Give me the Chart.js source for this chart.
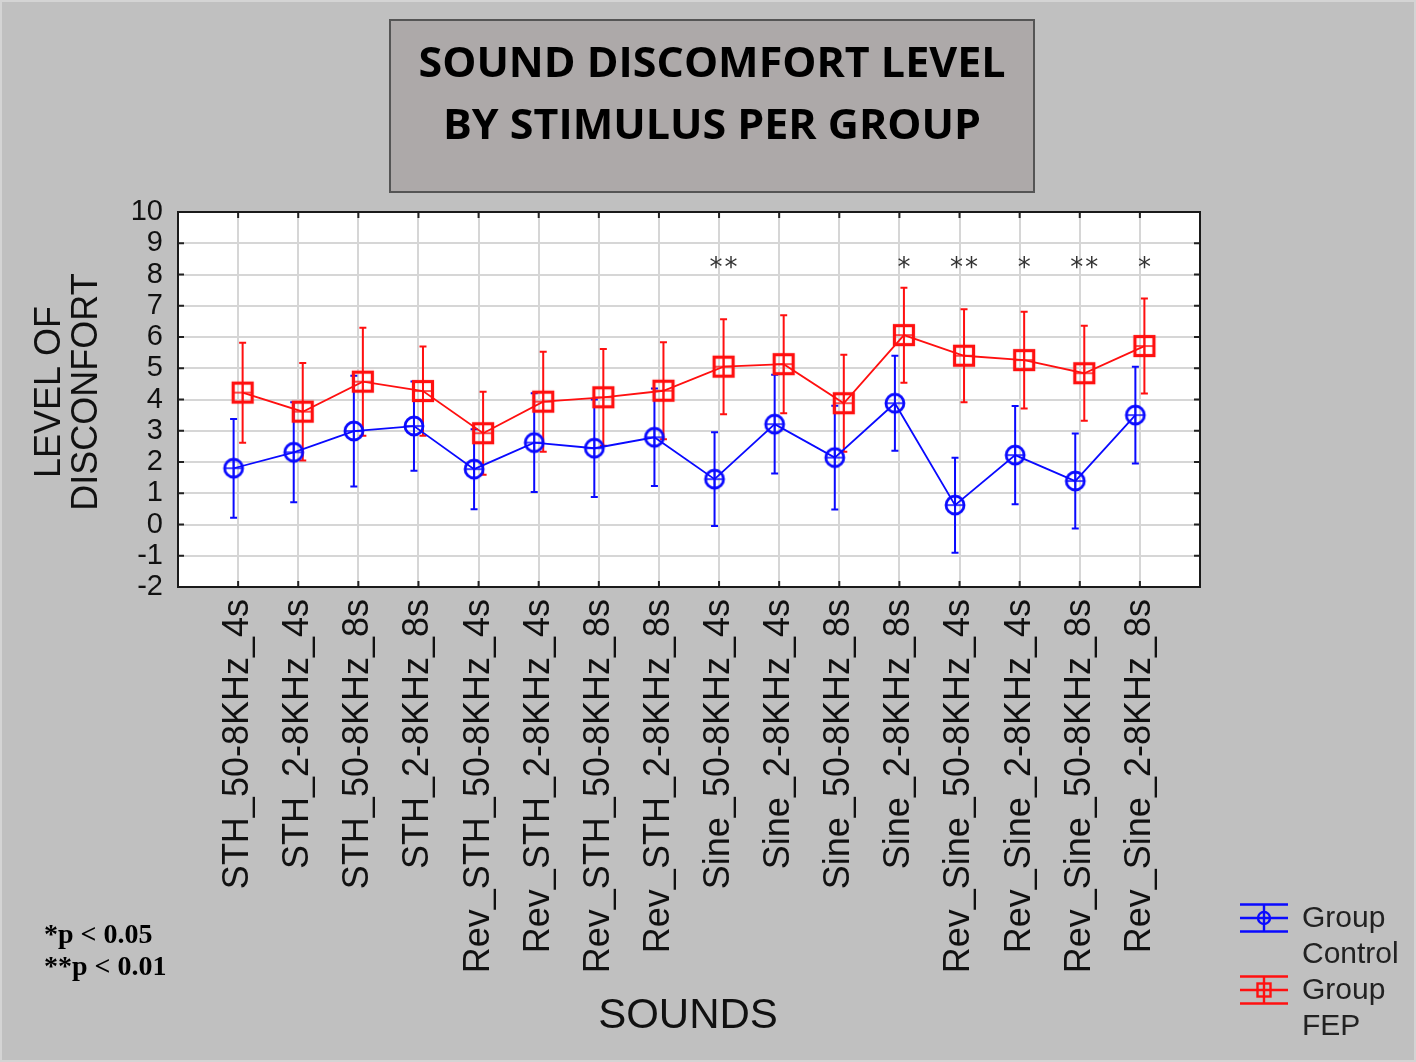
<!DOCTYPE html>
<html>
<head>
<meta charset="utf-8">
<script src="https://cdn.jsdelivr.net/npm/chart.js@4.4.1/dist/chart.umd.min.js"></script>
<style>
  html, body { margin: 0; padding: 0; background: #c0c0c0; }
  #wrap { width: 1416px; height: 1062px; position: relative; }
  canvas { display: block; }
</style>
</head>
<body>
<div id="wrap"><canvas id="c" width="1416" height="1062"></canvas></div>
<script>
// ---------------- DATA ----------------
const categories = [
  'STH_50-8KHz_4s', 'STH_2-8KHz_4s', 'STH_50-8KHz_8s', 'STH_2-8KHz_8s',
  'Rev_STH_50-8KHz_4s', 'Rev_STH_2-8KHz_4s', 'Rev_STH_50-8KHz_8s', 'Rev_STH_2-8KHz_8s',
  'Sine_50-8KHz_4s', 'Sine_2-8KHz_4s', 'Sine_50-8KHz_8s', 'Sine_2-8KHz_8s',
  'Rev_Sine_50-8KHz_4s', 'Rev_Sine_2-8KHz_4s', 'Rev_Sine_50-8KHz_8s', 'Rev_Sine_2-8KHz_8s'
];
const controlMeans = [1.80, 2.31, 2.99, 3.15, 1.77, 2.62, 2.44, 2.79, 1.45, 3.21, 2.14, 3.88, 0.62, 2.22, 1.39, 3.50];
const controlErr   = [1.58, 1.60, 1.77, 1.43, 1.28, 1.58, 1.56, 1.56, 1.50, 1.58, 1.66, 1.52, 1.52, 1.57, 1.52, 1.55];
const fepMeans     = [4.22, 3.61, 4.57, 4.27, 2.92, 3.93, 4.07, 4.28, 5.05, 5.13, 3.88, 6.06, 5.40, 5.26, 4.84, 5.71];
const fepErr       = [1.60, 1.56, 1.73, 1.43, 1.33, 1.60, 1.55, 1.55, 1.52, 1.57, 1.55, 1.52, 1.49, 1.55, 1.52, 1.52];
const significance = ['', '', '', '', '', '', '', '', '**', '', '', '*', '**', '*', '**', '*'];
const sigLevel = 8.4;
const yMin = -2, yMax = 10;
const seriesNames = [['Group', 'Control'], ['Group', 'FEP']];
const titleLines = ['SOUND DISCOMFORT LEVEL', 'BY STIMULUS PER GROUP'];
const yTitleLines = ['LEVEL OF', 'DISCONFORT'];
const xTitle = 'SOUNDS';
const noteLines = ['*p < 0.05', '**p < 0.01'];

// ---------------- STYLE ----------------
const BLUE = '#0a0aff', RED = '#ff1010';
const OFFSET = 0.075;

function makeMarker(kind, color) {
  const s = 28, c = document.createElement('canvas');
  c.width = s; c.height = s;
  const g = c.getContext('2d');
  g.strokeStyle = color;
  const m = s / 2;
  if (kind === 'circle') {
    g.lineWidth = 2.8;
    g.beginPath(); g.arc(m, m, 9, 0, Math.PI * 2); g.stroke();
    g.lineWidth = 1.6;
    g.beginPath(); g.moveTo(m - 9, m); g.lineTo(m + 9, m); g.moveTo(m, m - 9); g.lineTo(m, m + 9); g.stroke();
  } else {
    g.lineWidth = 3.2;
    g.strokeRect(m - 9.5, m - 9.5, 19, 19);
    g.lineWidth = 1.6;
    g.beginPath(); g.moveTo(m - 9.5, m); g.lineTo(m + 9.5, m); g.moveTo(m, m - 9.5); g.lineTo(m, m + 9.5); g.stroke();
  }
  return c;
}
function drawLegendMarker(g, kind, color, cx, cy) {
  g.save();
  g.strokeStyle = color;
  g.lineWidth = 2.4;
  g.beginPath();
  [-13.5, 0, 13.5].forEach(d => { g.moveTo(cx - 24, cy + d); g.lineTo(cx + 24, cy + d); });
  g.moveTo(cx, cy - 13.5); g.lineTo(cx, cy + 13.5);
  g.stroke();
  if (kind === 'circle') {
    g.beginPath(); g.arc(cx, cy, 6, 0, Math.PI * 2); g.stroke();
  } else {
    g.strokeRect(cx - 6.5, cy - 6.5, 13, 13);
  }
  g.restore();
}

const blueMarker = makeMarker('circle', BLUE);
const redMarker = makeMarker('square', RED);

const controlPts = controlMeans.map((v, i) => ({ x: i + 1 - OFFSET, y: v }));
const fepPts = fepMeans.map((v, i) => ({ x: i + 1 + OFFSET, y: v }));

const framePlugin = {
  id: 'frame',
  beforeDraw(chart) {
    const g = chart.ctx, a = chart.chartArea;
    g.save();
    g.fillStyle = '#c0c0c0';
    g.fillRect(0, 0, chart.width, chart.height);
    g.strokeStyle = '#d4d4d4';
    g.lineWidth = 2;
    g.strokeRect(1, 1, chart.width - 2, chart.height - 2);
    g.fillStyle = '#ffffff';
    g.fillRect(a.left, a.top, a.right - a.left, a.bottom - a.top);
    g.restore();
  },
  beforeDatasetsDraw(chart) {
    const g = chart.ctx, xs = chart.scales.x, ys = chart.scales.y;
    const sets = [[controlMeans, controlErr, -OFFSET, BLUE], [fepMeans, fepErr, OFFSET, RED]];
    g.save();
    g.lineWidth = 2;
    sets.forEach(([means, errs, off, col]) => {
      g.strokeStyle = col;
      means.forEach((m, i) => {
        const x = xs.getPixelForValue(i + 1 + off);
        const yt = ys.getPixelForValue(m + errs[i]);
        const yb = ys.getPixelForValue(m - errs[i]);
        g.beginPath();
        g.moveTo(x, yt); g.lineTo(x, yb);
        g.moveTo(x - 3.5, yt); g.lineTo(x + 3.5, yt);
        g.moveTo(x - 3.5, yb); g.lineTo(x + 3.5, yb);
        g.stroke();
      });
    });
    g.restore();
  },
  afterDraw(chart) {
    const g = chart.ctx, a = chart.chartArea, xs = chart.scales.x, ys = chart.scales.y;
    g.save();
    // inner tick marks
    g.strokeStyle = '#222';
    g.lineWidth = 2;
    g.beginPath();
    for (let v = yMin + 1; v < yMax; v++) {
      const y = ys.getPixelForValue(v);
      g.moveTo(a.left, y); g.lineTo(a.left + 6, y);
      g.moveTo(a.right, y); g.lineTo(a.right - 6, y);
    }
    categories.forEach((c, i) => {
      const x = xs.getPixelForValue(i + 1);
      g.moveTo(x, a.top); g.lineTo(x, a.top + 6);
      g.moveTo(x, a.bottom); g.lineTo(x, a.bottom - 6);
    });
    g.stroke();
    g.strokeStyle = '#1a1a1a';
    g.strokeRect(a.left, a.top, a.right - a.left, a.bottom - a.top);

    // significance asterisks
    g.fillStyle = '#333';
    g.font = '26px "DejaVu Sans"';
    g.textAlign = 'center';
    g.textBaseline = 'alphabetic';
    significance.forEach((s, i) => {
      if (!s) return;
      const xc = xs.getPixelForValue(i + 1 + OFFSET);
      const y = ys.getPixelForValue(sigLevel) + 14;
      const n = s.length;
      for (let k = 0; k < n; k++) {
        g.fillText('*', xc + (k - (n - 1) / 2) * 15, y);
      }
    });

    // title box
    g.fillStyle = '#ada9a9';
    g.fillRect(390, 20, 644, 172);
    g.strokeStyle = '#555';
    g.lineWidth = 2;
    g.strokeRect(390, 20, 644, 172);
    g.fillStyle = '#000';
    g.textAlign = 'center';
    g.textBaseline = 'alphabetic';
    g.font = 'bold 42px "Open Sans"';
    const w1 = g.measureText(titleLines[0]).width;
    const sx = 587 / w1;
    titleLines.forEach((t, k) => {
      g.save();
      g.translate(712, 77 + k * 62);
      g.scale(sx, 1);
      g.fillText(t, 0, 0);
      g.restore();
    });

    // y axis title
    g.fillStyle = '#111';
    g.font = '36px "Liberation Sans"';
    g.textBaseline = 'middle';
    yTitleLines.forEach((t, k) => {
      g.save();
      g.translate(50 + k * 37, 392);
      g.rotate(-Math.PI / 2);
      g.fillText(t, 0, 0);
      g.restore();
    });

    // x axis title
    g.font = '42px "Liberation Sans"';
    g.fillText(xTitle, 688, 1016);

    // notes
    g.textAlign = 'left';
    g.font = 'bold 28px "Liberation Serif"';
    g.fillStyle = '#000';
    noteLines.forEach((t, k) => g.fillText(t, 44, 936 + k * 32));

    // legend
    drawLegendMarker(g, 'circle', BLUE, 1264, 918);
    drawLegendMarker(g, 'square', RED, 1264, 990);
    g.fillStyle = '#222';
    g.font = '30px "Liberation Sans"';
    g.textBaseline = 'middle';
    [[seriesNames[0][0], 919], [seriesNames[0][1], 955], [seriesNames[1][0], 991], [seriesNames[1][1], 1027]]
      .forEach(([t, y]) => g.fillText(t, 1302, y));
    g.restore();
  }
};

new Chart(document.getElementById('c'), {
  type: 'line',
  data: {
    datasets: [
      {
        label: 'Group Control', data: controlPts,
        borderColor: BLUE, backgroundColor: BLUE, borderWidth: 1.8,
        pointStyle: blueMarker, pointRadius: 9, pointHoverRadius: 9, tension: 0
      },
      {
        label: 'Group FEP', data: fepPts,
        borderColor: RED, backgroundColor: RED, borderWidth: 1.8,
        pointStyle: redMarker, pointRadius: 9, pointHoverRadius: 9, tension: 0
      }
    ]
  },
  options: {
    responsive: false,
    animation: false,
    devicePixelRatio: 1,
    layout: { padding: { top: 212, right: 216, left: 0, bottom: 0 } },
    plugins: { legend: { display: false }, tooltip: { enabled: false } },
    scales: {
      x: {
        type: 'linear', min: 0, max: categories.length + 1,
        afterBuildTicks: s => { s.ticks = Array.from({ length: categories.length + 2 }, (_, i) => ({ value: i })); },
        afterFit: s => { s.height = 1062 - 587; },
        ticks: {
          autoSkip: false, maxRotation: 90, minRotation: 90, padding: 12,
          callback: v => categories[v - 1] || '',
          font: { family: 'Liberation Sans', size: 36 }, color: '#111'
        },
        grid: { color: '#d6d6d6', lineWidth: 2, drawTicks: false },
        border: { display: false }
      },
      y: {
        min: yMin, max: yMax,
        afterBuildTicks: s => { s.ticks = Array.from({ length: yMax - yMin + 1 }, (_, i) => ({ value: yMin + i })); },
        afterFit: s => { s.width = 178; },
        ticks: { autoSkip: false, stepSize: 1, padding: 15, font: { family: 'Liberation Sans', size: 29 }, color: '#111' },
        grid: { color: '#d6d6d6', lineWidth: 2, drawTicks: false },
        border: { display: false }
      }
    }
  },
  plugins: [framePlugin]
});
</script>
</body>
</html>
